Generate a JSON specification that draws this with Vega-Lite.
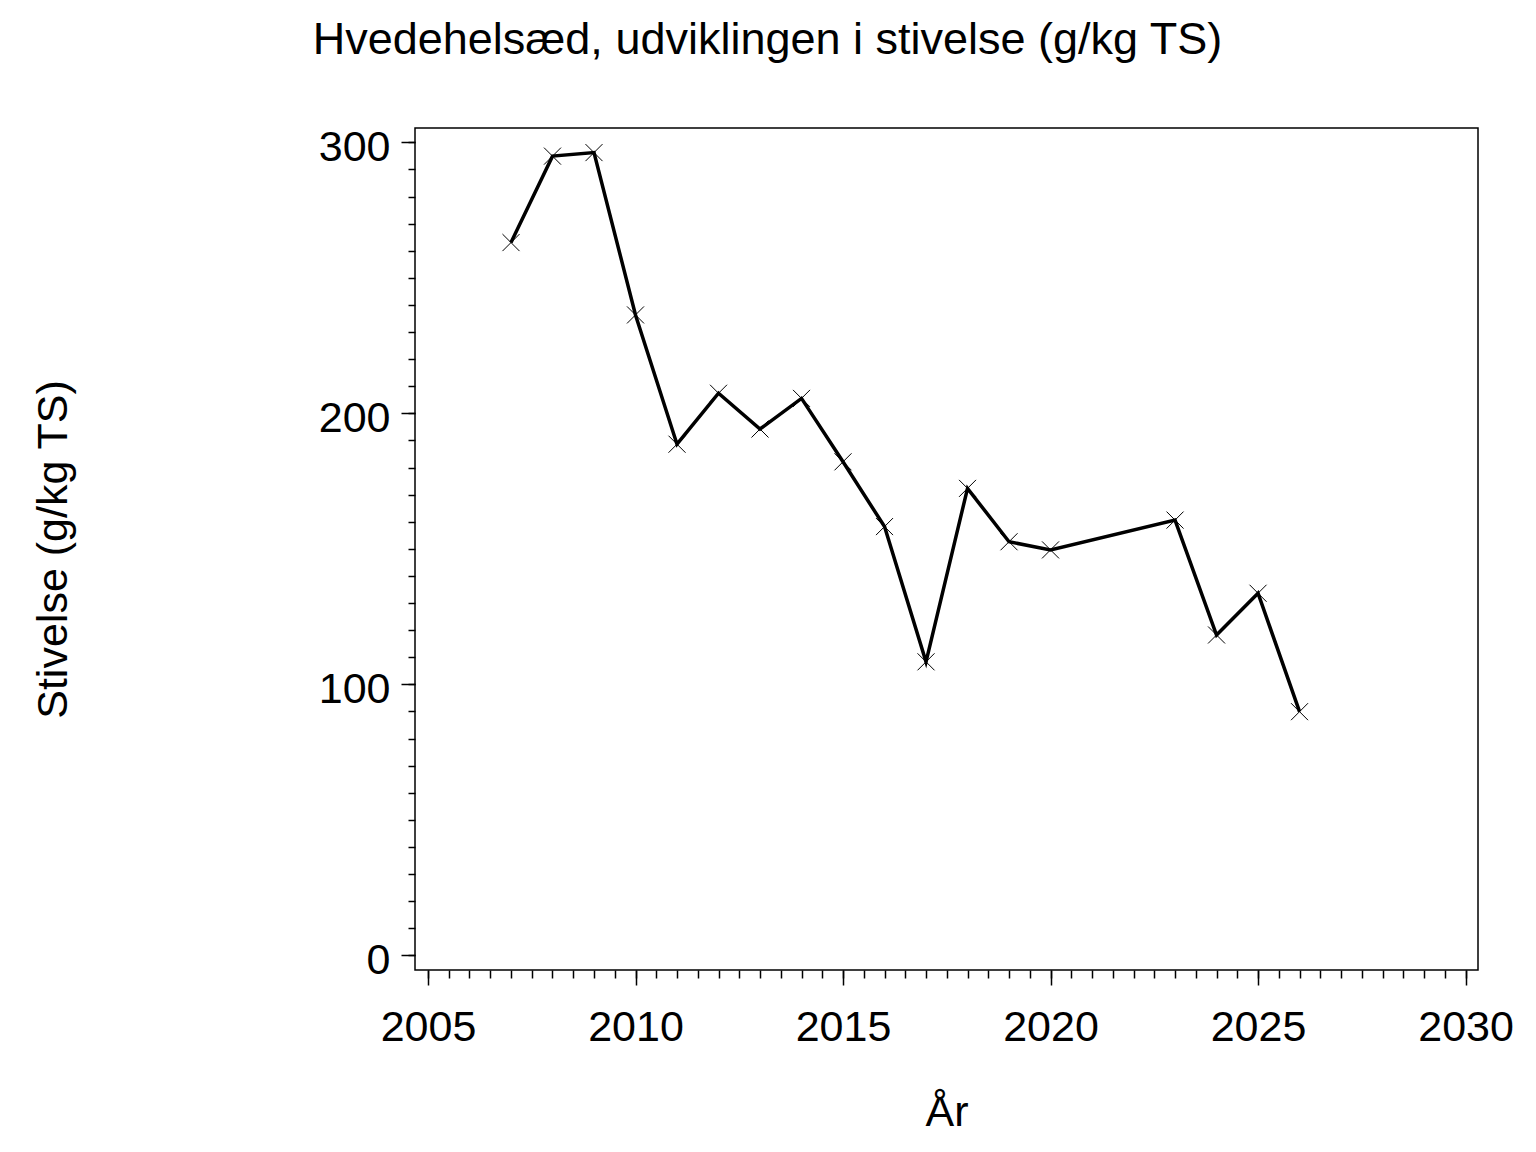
{
  "$schema": "https://vega.github.io/schema/vega-lite/v6.json",
  "autosize": "none",
  "width": 1063,
  "height": 842,
  "padding": {"left": 415, "top": 128, "right": 58, "bottom": 182},
  "background": "white",
  "config": {
    "font": "Liberation Sans",
    "view": {"stroke": "black", "strokeWidth": 1.5},
    "axis": {
      "grid": false,
      "domain": false,
      "tickColor": "black",
      "tickWidth": 1.5,
      "labelColor": "black",
      "labelFont": "Liberation Sans",
      "labelFontSize": 43,
      "titleFont": "Liberation Sans",
      "titleFontSize": 43,
      "titleFontWeight": "normal",
      "titleColor": "black"
    }
  },
  "title": {
    "text": "Hvedehelsæd, udviklingen i stivelse (g/kg TS)",
    "font": "Liberation Sans",
    "fontSize": 45,
    "fontWeight": "normal",
    "color": "black",
    "anchor": "middle",
    "frame": "group",
    "baseline": "alphabetic",
    "offset": 27,
    "dx": -179
  },
  "data": {
    "values": [
      {"year": 2007, "stivelse": 263.0},
      {"year": 2008, "stivelse": 294.9},
      {"year": 2009, "stivelse": 296.2},
      {"year": 2010, "stivelse": 236.3},
      {"year": 2011, "stivelse": 188.6},
      {"year": 2012, "stivelse": 207.4},
      {"year": 2013, "stivelse": 194.2},
      {"year": 2014, "stivelse": 205.5},
      {"year": 2015, "stivelse": 182.1},
      {"year": 2016, "stivelse": 158.2},
      {"year": 2017, "stivelse": 108.3},
      {"year": 2018, "stivelse": 172.3},
      {"year": 2019, "stivelse": 152.6},
      {"year": 2020, "stivelse": 149.6},
      {"year": 2023, "stivelse": 160.6},
      {"year": 2024, "stivelse": 118.2},
      {"year": 2025, "stivelse": 133.6},
      {"year": 2026, "stivelse": 89.9}
    ]
  },
  "layer": [
    {
      "mark": {"type": "line", "color": "black", "strokeWidth": 3.5},
      "encoding": {
        "x": {
          "field": "year",
          "type": "quantitative",
          "scale": {"domain": [2004.687, 2030.3], "nice": false, "zero": false},
          "axis": {
            "orient": "bottom",
            "title": null,
            "labels": false,
            "tickSize": 8,
            "values": [2005, 2005.5, 2006, 2006.5, 2007, 2007.5, 2008, 2008.5, 2009, 2009.5, 2010, 2010.5, 2011, 2011.5, 2012, 2012.5, 2013, 2013.5, 2014, 2014.5, 2015, 2015.5, 2016, 2016.5, 2017, 2017.5, 2018, 2018.5, 2019, 2019.5, 2020, 2020.5, 2021, 2021.5, 2022, 2022.5, 2023, 2023.5, 2024, 2024.5, 2025, 2025.5, 2026, 2026.5, 2027, 2027.5, 2028, 2028.5, 2029, 2029.5, 2030]
          }
        },
        "y": {
          "field": "stivelse",
          "type": "quantitative",
          "scale": {"domain": [-5.42, 305.28], "nice": false, "zero": false},
          "axis": {
            "orient": "left",
            "title": null,
            "labels": false,
            "tickSize": 7,
            "values": [0, 10, 20, 30, 40, 50, 60, 70, 80, 90, 100, 110, 120, 130, 140, 150, 160, 170, 180, 190, 200, 210, 220, 230, 240, 250, 260, 270, 280, 290, 300]
          }
        }
      }
    },
    {
      "mark": {
        "type": "point",
        "shape": "M-1,-1L1,1M-1,1L1,-1",
        "filled": false,
        "stroke": "black",
        "strokeWidth": 1,
        "size": 290,
        "opacity": 1
      },
      "encoding": {
        "x": {
          "field": "year",
          "type": "quantitative",
          "axis": {
            "orient": "bottom",
            "title": "År",
            "format": "d",
            "tickSize": 15,
            "labelPadding": 21,
            "values": [2005, 2010, 2015, 2020, 2025, 2030],
            "titleX": 531.5,
            "titleY": 121,
            "titleBaseline": "top"
          }
        },
        "y": {
          "field": "stivelse",
          "type": "quantitative",
          "axis": {
            "orient": "left",
            "title": "Stivelse (g/kg TS)",
            "tickSize": 14,
            "labelPadding": 11,
            "labelOffset": 5,
            "values": [0, 100, 200, 300],
            "titleX": -340,
            "titleY": 421,
            "titleAngle": -90,
            "titleBaseline": "bottom"
          }
        }
      }
    }
  ],
  "resolve": {"axis": {"x": "independent", "y": "independent"}}
}
